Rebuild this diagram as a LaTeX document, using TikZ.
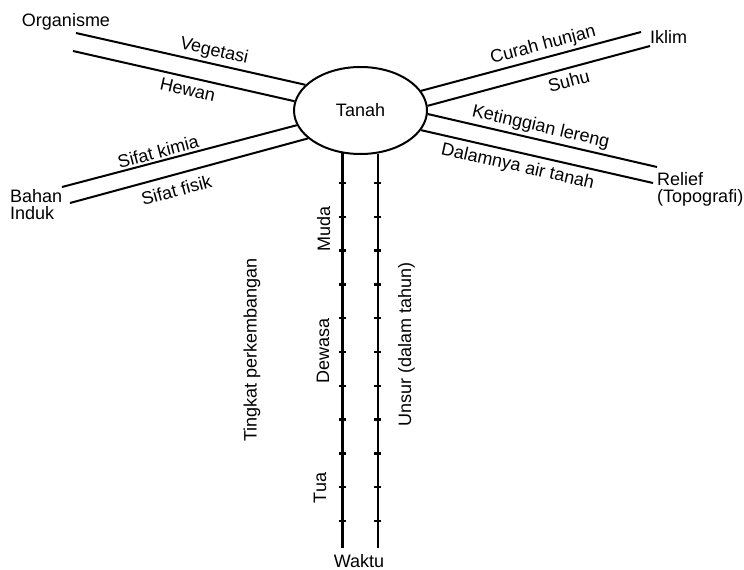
\documentclass[tikz,border=0pt]{standalone}
\usepackage{fontspec}
\setmainfont{Liberation Sans}
\usetikzlibrary{shapes.geometric}

\begin{document}
\begin{tikzpicture}[x=1pt, y=-1pt,
txt/.style={font=\fontsize{18}{17}\selectfont, inner sep=0pt},
ellTanah/.style={ellipse, draw=black, line width=2pt, minimum width=133pt, minimum height=87pt, inner sep=0pt, font=\fontsize{18}{17}\selectfont},
spoke/.style={draw=black, line width=2pt},
lblAbove/.style={txt, sloped, above, inner sep=3pt},
lblBelow/.style={txt, sloped, below, inner sep=5pt},
lineThick/.style={draw=black, line width=3pt},
lineThin/.style={draw=black, line width=2pt},
tickMark/.style={draw=black, line width=2.5pt},
vertText/.style={txt, rotate=90, anchor=base}]

\useasboundingbox (0,0) rectangle (744,570);

\node[ellTanah] (tanah) at (360.5, 110.5) {Tanah};

% ends of the spokes
\coordinate (orgA) at (76, 33);
\coordinate (orgB) at (73, 51);
\coordinate (iklA) at (641, 32);
\coordinate (iklB) at (650, 46);
\coordinate (relA) at (657, 167);
\coordinate (relB) at (653, 183);
\coordinate (bahA) at (62, 187);
\coordinate (bahB) at (70, 203);
\coordinate (bot) at (360, 548);

\node[txt, anchor=base] (organisme) at (66, 27) {Organisme};
\node[txt, anchor=base west] (iklim) at (650, 43) {Iklim};
\node[txt, anchor=north west, align=left] (relief) at (657, 172.5) {Relief\\(Topografi)};
\node[txt, anchor=north west, align=left] (bahan) at (10, 189.5) {Bahan\\Induk};

\path[spoke] (orgA) edge node[lblAbove, pos=.59] (vegetasi) {Vegetasi} (tanah.155)
             (orgB) edge node[lblBelow, pos=.53] (hewan) {Hewan} (tanah.172)
             (tanah.18) edge node[lblAbove, pos=.57] (curah) {Curah hunjan} (iklA)
             (tanah.4) edge node[lblBelow, pos=.62] (suhu) {Suhu} (iklB)
             (tanah.-3) edge node[lblAbove, pos=.48] (ketinggian) {Ketinggian lereng} (relA)
             (tanah.-18) edge node[lblBelow, pos=.43] (dalamnya) {Dalamnya air tanah} (relB)
             (bahA) edge node[lblAbove, pos=.42, inner sep=2pt] (kimia) {Sifat kimia} (tanah.193)
             (bahB) edge node[lblBelow, pos=.43, inner sep=8pt] (fisik) {Sifat fisik} (tanah.208);

% time axes
\draw[lineThick] (tanah.247) -- (tanah.247 |- bot);
\draw[lineThin] (tanah.292) -- (tanah.292 |- bot);
\foreach \k in {0,...,10} {
  \draw[tickMark] (tanah.247 |- 0,{183+33.8*\k}) ++(-3.5,0) -- ++(7,0);
  \draw[tickMark] (tanah.292 |- 0,{183+33.8*\k}) ++(-3.5,0) -- ++(7,0);
}

\node[vertText] (muda) at (330, 229) {Muda};
\node[vertText] (dewasa) at (329, 351) {Dewasa};
\node[vertText] (tua) at (326, 488) {Tua};
\node[vertText] (tingkat) at (256.5, 350) {Tingkat perkembangan};
\node[vertText] (unsur) at (411, 344.5) {Unsur (dalam tahun)};
\node[txt, anchor=base] (waktu) at (359, 567) {Waktu};

\end{tikzpicture}
\end{document}
